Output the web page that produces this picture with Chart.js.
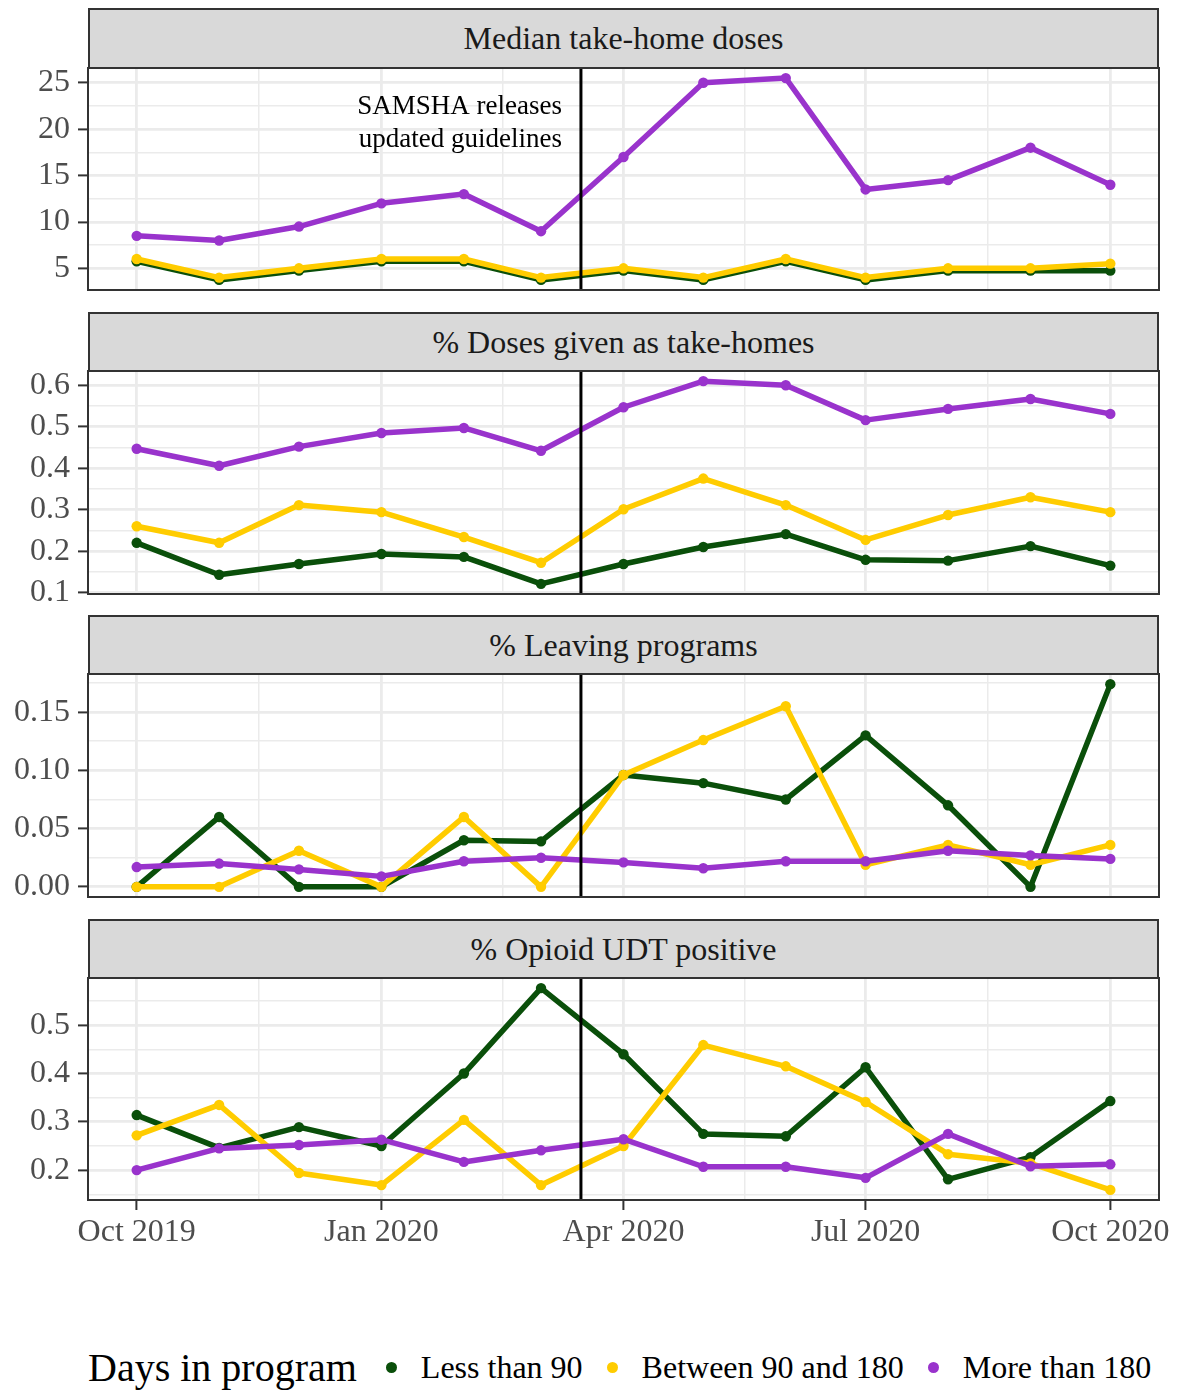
<!DOCTYPE html>
<html>
<head>
<meta charset="utf-8">
<script src="https://cdn.jsdelivr.net/npm/chart.js@4.4.1/dist/chart.umd.min.js"></script>
<style>
  body { margin: 0; background: #fff; }
  #fig { position: relative; width: 1178px; height: 1392px; font-family: 'Liberation Serif', 'Times New Roman', serif; overflow: hidden; }
  .strip { position: absolute; left: 88px; width: 1071px; box-sizing: border-box; background: #d9d9d9;
           border: 2px solid #333; color: #1a1a1a; font-size: 32px; display: flex; align-items: center;
           justify-content: center; z-index: 2; }
  .panel { position: absolute; left: 0; }
  #legend { position: absolute; left: 88px; top: 1342px; height: 50px; display: flex; align-items: center;
            color: #000; white-space: nowrap; }
  #legend .title { font-size: 40px; margin-right: 29px; }
  #legend .dot { width: 11px; height: 11px; border-radius: 50%; margin-right: 24px; flex: none; }
  #legend .lab { font-size: 32px; margin-right: 24px; }
</style>
</head>
<body>
<div id="fig"></div>
<script>
// monthly observations
const months = ['2019-10-01', '2019-11-01', '2019-12-01', '2020-01-01', '2020-02-01', '2020-03-01', '2020-04-01',
                '2020-05-01', '2020-06-01', '2020-07-01', '2020-08-01', '2020-09-01', '2020-10-01'];
const seriesNames = ['Less than 90', 'Between 90 and 180', 'More than 180'];
const seriesColors = ['#0a4f0a', '#ffcc00', '#9933cc'];

// Median take-home doses
const dosesLess = [5.75, 3.75, 4.75, 5.75, 5.75, 3.75, 4.75, 3.75, 5.75, 3.75, 4.75, 4.75, 4.75];
const dosesMid  = [6, 4, 5, 6, 6, 4, 5, 4, 6, 4, 5, 5, 5.5];
const dosesMore = [8.5, 8, 9.5, 12, 13, 9, 17, 25, 25.5, 13.5, 14.5, 18, 14];

// % Doses given as take-homes
const takeLess = [0.220, 0.143, 0.169, 0.193, 0.186, 0.121, 0.169, 0.210, 0.241, 0.179, 0.177, 0.212, 0.165];
const takeMid  = [0.260, 0.220, 0.311, 0.294, 0.234, 0.172, 0.301, 0.375, 0.311, 0.227, 0.287, 0.330, 0.294];
const takeMore = [0.447, 0.406, 0.452, 0.485, 0.497, 0.442, 0.547, 0.610, 0.600, 0.516, 0.543, 0.567, 0.531];

// % Leaving programs
const leaveLess = [0, 0.060, 0, 0, 0.040, 0.039, 0.096, 0.089, 0.075, 0.130, 0.070, 0, 0.174];
const leaveMid  = [0, 0, 0.031, 0, 0.060, 0, 0.096, 0.126, 0.155, 0.019, 0.036, 0.019, 0.036];
const leaveMore = [0.017, 0.020, 0.015, 0.009, 0.022, 0.025, 0.021, 0.016, 0.022, 0.022, 0.031, 0.027, 0.024];

// % Opioid UDT positive
const udtLess = [0.314, 0.246, 0.289, 0.250, 0.400, 0.577, 0.440, 0.275, 0.270, 0.413, 0.181, 0.227, 0.343];
const udtMid  = [0.272, 0.335, 0.194, 0.169, 0.304, 0.169, 0.250, 0.459, 0.415, 0.341, 0.233, 0.214, 0.159];
const udtMore = [0.200, 0.245, 0.252, 0.263, 0.217, 0.241, 0.264, 0.207, 0.207, 0.184, 0.275, 0.208, 0.212];

const xTickDates  = ['2019-10-01', '2020-01-01', '2020-04-01', '2020-07-01', '2020-10-01'];
const xTickLabels = ['Oct 2019', 'Jan 2020', 'Apr 2020', 'Jul 2020', 'Oct 2020'];
const guidanceDate = '2020-03-16';
const noteLines = ['SAMSHA releases', 'updated guidelines'];

const yTicksDoses = [5, 10, 15, 20, 25];
const yTicksTake  = [0.1, 0.2, 0.3, 0.4, 0.5, 0.6];
const yTicksLeave = [0, 0.05, 0.10, 0.15];
const yTicksUdt   = [0.2, 0.3, 0.4, 0.5];

const panels = [
  { title: 'Median take-home doses', data: [dosesLess, dosesMid, dosesMore], ticks: yTicksDoses, digits: 0,
    stripTop: 8, plotTop: 68, plotBottom: 290, note: true, noteY: 20.6 },
  { title: '% Doses given as take-homes', data: [takeLess, takeMid, takeMore], ticks: yTicksTake, digits: 1,
    stripTop: 312, plotTop: 371, plotBottom: 594 },
  { title: '% Leaving programs', data: [leaveLess, leaveMid, leaveMore], ticks: yTicksLeave, digits: 2,
    stripTop: 615, plotTop: 674, plotBottom: 897 },
  { title: '% Opioid UDT positive', data: [udtLess, udtMid, udtMore], ticks: yTicksUdt, digits: 1,
    stripTop: 919, plotTop: 978, plotBottom: 1200, xAxis: true }
];

const t0 = Date.parse(months[0] + 'T00:00:00Z');
const dayOf = s => (Date.parse(s + 'T00:00:00Z') - t0) / 864e5;
const xSpan = dayOf(months[months.length - 1]);
const xMin = -0.05 * xSpan, xMax = 1.05 * xSpan;
const xMajor = xTickDates.map(dayOf);

function withMinors(majors, lo, hi) {
  const step = majors[1] - majors[0];
  const all = [majors[0] - step / 2];
  majors.forEach((v, i) => {
    all.push(v);
    all.push(i < majors.length - 1 ? (v + majors[i + 1]) / 2 : v + step / 2);
  });
  return all.filter(v => v >= lo - 1e-9 && v <= hi + 1e-9);
}
const isMajor = (majors, v) => majors.some(m => Math.abs(m - v) < 1e-6);

const panelDecor = {
  id: 'panelDecor',
  afterDatasetsDraw(chart, args, opts) {
    const { ctx, chartArea: a, scales } = chart;
    const vx = scales.x.getPixelForValue(dayOf(guidanceDate));
    ctx.save();
    ctx.strokeStyle = '#000';
    ctx.lineWidth = 3;
    ctx.beginPath();
    ctx.moveTo(vx, a.top);
    ctx.lineTo(vx, a.bottom);
    ctx.stroke();
    if (opts.note) {
      ctx.fillStyle = '#000';
      ctx.font = "27px 'Liberation Serif', serif";
      ctx.textAlign = 'right';
      ctx.textBaseline = 'middle';
      const y = scales.y.getPixelForValue(opts.noteY);
      noteLines.forEach((t, i) => ctx.fillText(t, vx - 19, y + (i - (noteLines.length - 1) / 2) * 33));
    }
    ctx.strokeStyle = '#333';
    ctx.lineWidth = 2;
    ctx.strokeRect(a.left, a.top, a.right - a.left, a.bottom - a.top);
    ctx.restore();
  }
};

Chart.defaults.font.family = "'Liberation Serif', 'Times New Roman', serif";
Chart.defaults.font.size = 32;
Chart.defaults.color = '#4d4d4d';

const fig = document.getElementById('fig');

panels.forEach(p => {
  const strip = document.createElement('div');
  strip.className = 'strip';
  strip.style.top = p.stripTop + 'px';
  strip.style.height = (p.plotTop - p.stripTop + 1) + 'px';
  strip.textContent = p.title;
  fig.appendChild(strip);

  const padTop = 30, padBottom = p.xAxis ? 0 : 40, axisH = p.xAxis ? 60 : 0;
  const canvas = document.createElement('canvas');
  canvas.className = 'panel';
  canvas.width = 1178;
  canvas.height = padTop + (p.plotBottom - p.plotTop) + axisH + padBottom;
  canvas.style.top = (p.plotTop - padTop) + 'px';
  fig.appendChild(canvas);

  const all = [].concat(...p.data);
  const lo = Math.min(...all), hi = Math.max(...all);
  const yMin = lo - 0.05 * (hi - lo), yMax = hi + 0.05 * (hi - lo);

  const datasets = p.data.map((vals, k) => ({
    label: seriesNames[k],
    data: vals.map((v, i) => ({ x: dayOf(months[i]), y: v })),
    borderColor: seriesColors[k],
    backgroundColor: seriesColors[k],
    borderWidth: 5.5,
    pointRadius: 5.2,
    pointBorderWidth: 0,
    borderJoinStyle: 'round',
    borderCapStyle: 'round',
    order: 2 - k
  }));

  new Chart(canvas, {
    type: 'line',
    data: { datasets },
    options: {
      responsive: false,
      animation: false,
      layout: { padding: { left: 0, right: 19, top: padTop, bottom: padBottom } },
      plugins: { legend: { display: false }, tooltip: { enabled: false },
                 panelDecor: { note: !!p.note, noteY: p.noteY } },
      scales: {
        x: {
          type: 'linear', min: xMin, max: xMax,
          afterBuildTicks: s => { s.ticks = withMinors(xMajor, xMin, xMax).map(v => ({ value: v })); },
          afterFit: s => { s.height = axisH; },
          border: { display: false },
          grid: {
            color: '#ebebeb',
            lineWidth: c => isMajor(xMajor, c.tick.value) ? 2.8 : 1.5,
            drawTicks: !!p.xAxis,
            tickLength: 10,
            tickColor: c => isMajor(xMajor, c.tick.value) ? '#333' : 'rgba(0,0,0,0)',
            tickWidth: 2
          },
          ticks: {
            display: !!p.xAxis, autoSkip: false, maxRotation: 0, minRotation: 0, padding: 3,
            color: '#4d4d4d',
            callback: v => { const i = xMajor.findIndex(m => Math.abs(m - v) < 1e-6); return i >= 0 ? xTickLabels[i] : ''; }
          }
        },
        y: {
          type: 'linear', min: yMin, max: yMax,
          afterBuildTicks: s => { s.ticks = withMinors(p.ticks, yMin, yMax).map(v => ({ value: v })); },
          afterFit: s => { s.width = 88; },
          border: { display: false },
          grid: {
            color: '#ebebeb',
            lineWidth: c => isMajor(p.ticks, c.tick.value) ? 2.8 : 1.5,
            tickLength: 10,
            tickColor: c => isMajor(p.ticks, c.tick.value) ? '#333' : 'rgba(0,0,0,0)',
            tickWidth: 2
          },
          ticks: {
            padding: 8, color: '#4d4d4d', autoSkip: false,
            callback: v => isMajor(p.ticks, v) ? v.toFixed(p.digits) : ''
          }
        }
      }
    },
    plugins: [panelDecor]
  });
});

// legend
const legend = document.createElement('div');
legend.id = 'legend';
const title = document.createElement('span');
title.className = 'title';
title.textContent = 'Days in program';
legend.appendChild(title);
seriesNames.forEach((n, k) => {
  const dot = document.createElement('span');
  dot.className = 'dot';
  dot.style.background = seriesColors[k];
  const lab = document.createElement('span');
  lab.className = 'lab';
  lab.textContent = n;
  legend.appendChild(dot);
  legend.appendChild(lab);
});
fig.appendChild(legend);
</script>
</body>
</html>
